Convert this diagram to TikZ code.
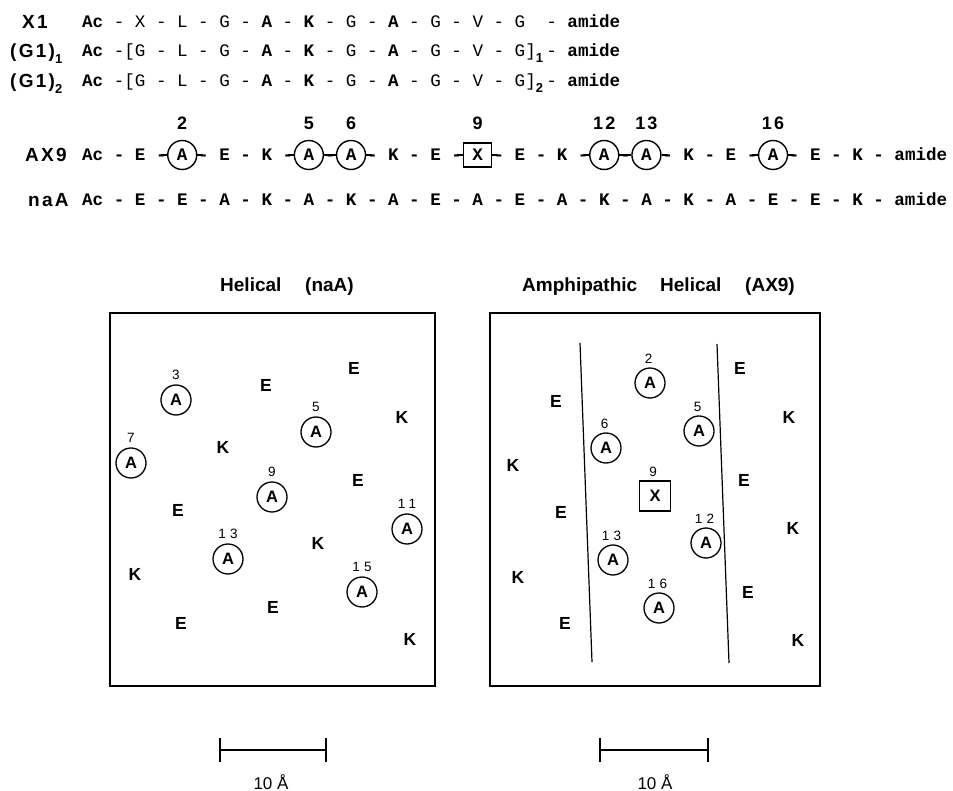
\documentclass[tikz,border=0pt]{standalone}
\usepackage{fontspec}
\setmainfont{Liberation Sans}
\newfontfamily\seqfont{Liberation Mono}
\newfontfamily\lblfont{Liberation Sans}[LetterSpace=12]
\newfontfamily\numfont{Liberation Sans}[LetterSpace=30]
\newcommand\seqsize{\fontsize{17.58}{20}\selectfont}
\newcommand\subdig[1]{\makebox[10.55pt][l]{\raisebox{-6pt}{\fontsize{13}{13}\lblfont\bfseries #1}}}
\begin{document}
\begin{tikzpicture}[x=1pt,y=-1pt,
  seq/.style={anchor=base west, inner sep=0pt, font=\seqfont\seqsize},
  rowlbl/.style={anchor=base west, inner sep=0pt, font=\fontsize{19}{22}\lblfont\bfseries},
  seqnum/.style={inner sep=0pt, font=\fontsize{18}{20}\lblfont\bfseries},
  seqcirc/.style={circle, draw, line width=1.4pt, minimum size=29pt, inner sep=0pt, font=\seqfont\seqsize\bfseries},
  seqbox/.style={rectangle, draw, line width=1.3pt, minimum width=28pt, minimum height=24pt, inner sep=0pt, font=\seqfont\seqsize\bfseries},
  link/.style={line width=1.8pt},
  title/.style={anchor=base west, inner sep=0pt, font=\fontsize{19}{22}\selectfont\bfseries},
  res/.style={inner sep=0pt, font=\fontsize{17.5}{20}\selectfont\bfseries},
  wcirc/.style={circle, draw, line width=1.3pt, minimum size=30pt, inner sep=0pt, font=\fontsize{16.5}{18}\selectfont\bfseries},
  wbox/.style={rectangle, draw, line width=1.3pt, minimum width=31pt, minimum height=30pt, inner sep=0pt, font=\fontsize{16.5}{18}\selectfont\bfseries},
  wnum/.style={inner sep=0pt, font=\fontsize{13.5}{15}\numfont},
  frame/.style={line width=1.6pt},
  sep/.style={line width=1.2pt},
  bar/.style={line width=1.3pt},
  barlbl/.style={inner sep=0pt, font=\fontsize{17}{20}\selectfont}
]
\useasboundingbox (0,0) rectangle (953,791);

% ---------- sequence rows ----------
\node[rowlbl] (lX1) at (22,29) {X1};
\node[rowlbl] (lG11) at (10,58) {(G1)\subdig{1}};
\node[rowlbl] (lG12) at (10,88) {(G1)\subdig{2}};
\node[rowlbl] (lAX9) at (25,162) {AX9};
\node[rowlbl] (lnaA) at (28,207) {naA};

\node[seq] (sX1) at (82,28) {\textbf{Ac}~-~X~-~L~-~G~-~\textbf{A}~-~\textbf{K}~-~G~-~\textbf{A}~-~G~-~V~-~G~~-~\textbf{amide}};
\node[seq] (sG11) at (82,57) {\textbf{Ac}~-[G~-~L~-~G~-~\textbf{A}~-~\textbf{K}~-~G~-~\textbf{A}~-~G~-~V~-~G]\subdig{1}-~\textbf{amide}};
\node[seq] (sG12) at (82,87) {\textbf{Ac}~-[G~-~L~-~G~-~\textbf{A}~-~\textbf{K}~-~G~-~\textbf{A}~-~G~-~V~-~G]\subdig{2}-~\textbf{amide}};
\node[seq] (sAX9) at (82,161) {\textbf{Ac~-~E~-~~~-~E~-~K~-~~~-~~~-~K~-~E~-~~~-~E~-~K~-~~~-~~~-~K~-~E~-~~~-~E~-~K~-~amide}};
\node[seq] (snaA) at (82,206) {\textbf{Ac~-~E~-~E~-~A~-~K~-~A~-~K~-~A~-~E~-~A~-~E~-~A~-~K~-~A~-~K~-~A~-~E~-~E~-~K~-~amide}};

% circled / boxed residues of AX9
\foreach \i in {2,5,6,12,13,16} {
  \node[seqcirc] (a\i) at ({82+(4*\i+1.5)*10.55},155) {A};
  \node[seqnum] (n\i) at ({82+(4*\i+1.5)*10.55},123) {\i};
}
\node[seqbox] (x9) at ({82+(4*9+1.5)*10.55},155) {X};
\node[seqnum] (n9) at ({82+(4*9+1.5)*10.55},123) {9};

\draw[link] (a2.west) -- +(-6,0);  \draw[link] (a2.east) -- +(6,0);
\draw[link] (a5.west) -- +(-6,0);  \draw[link] (a5.east) -- (a6.west);
\draw[link] (a6.east) -- +(6,0);
\draw[link] (x9.west) -- +(-6,0);  \draw[link] (x9.east) -- +(6,0);
\draw[link] (a12.west) -- +(-6,0); \draw[link] (a12.east) -- (a13.west);
\draw[link] (a13.east) -- +(6,0);
\draw[link] (a16.west) -- +(-6,0); \draw[link] (a16.east) -- +(6,0);

% ---------- titles ----------
\node[title] (t1a) at (220,292) {Helical};
\node[title] (t1b) at (305,292) {(naA)};
\node[title] (t2a) at (522,292) {Amphipathic};
\node[title] (t2b) at (660,292) {Helical};
\node[title] (t2c) at (745,292) {(AX9)};

% ---------- left panel ----------
\draw[frame] (110,313) rectangle (435,686);
\foreach \x/\y/\t [count=\n] in {266/385/E, 354/368/E, 402/417/K, 223/447/K, 358/480/E, 178/510/E,
    318/543/K, 135/574/K, 273/607/E, 181/623/E, 410/639/K}
  \node[res] (lr\n) at (\x,\y) {\t};
\foreach \x/\y/\k in {176/400/3, 316/432/5, 131/463/7, 272/497/9, 407/529/11, 228/559/13, 362/592/15} {
  \node[wcirc] (la\k) at (\x,\y) {A};
  \node[wnum] (ln\k) at (\x,{\y-25}) {\k};
}

% ---------- right panel ----------
\draw[frame] (490,313) rectangle (820,686);
\coordinate (s1a) at (580,343); \coordinate (s1b) at (592,662);
\coordinate (s2a) at (717,344); \coordinate (s2b) at (729,663);
\draw[sep] (s1a) -- (s1b);
\draw[sep] (s2a) -- (s2b);
\foreach \x/\y/\t [count=\n] in {740/368/E, 556/401/E, 789/417/K, 513/465/K, 744/480/E, 561/512/E,
    793/528/K, 518/577/K, 748/592/E, 565/623/E, 798/640/K}
  \node[res] (rr\n) at (\x,\y) {\t};
\foreach \x/\y/\k in {650/383/2, 699/431/5, 606/448/6, 706/543/12, 613/560/13, 659/608/16} {
  \node[wcirc] (ra\k) at (\x,\y) {A};
  \node[wnum] (rn\k) at ({\x-1.5},{\y-24}) {\k};
}
\node[wbox] (rx9) at (655,496) {X};
\node[wnum] (rn9) at (653,472) {9};

% ---------- scale bars ----------
\coordinate (b1a) at (220,750); \coordinate (b1b) at (326,750);
\coordinate (b2a) at (600,750); \coordinate (b2b) at (708,750);
\draw[bar] (b1a) -- (b1b);
\draw[bar] ([yshift=-12pt]b1a) -- ([yshift=12pt]b1a);
\draw[bar] ([yshift=-12pt]b1b) -- ([yshift=12pt]b1b);
\draw[bar] (b2a) -- (b2b);
\draw[bar] ([yshift=-12pt]b2a) -- ([yshift=12pt]b2a);
\draw[bar] ([yshift=-12pt]b2b) -- ([yshift=12pt]b2b);
\node[barlbl] (bl1) at (271,782) {10 Å};
\node[barlbl] (bl2) at (655,782) {10 Å};
\end{tikzpicture}
\end{document}
